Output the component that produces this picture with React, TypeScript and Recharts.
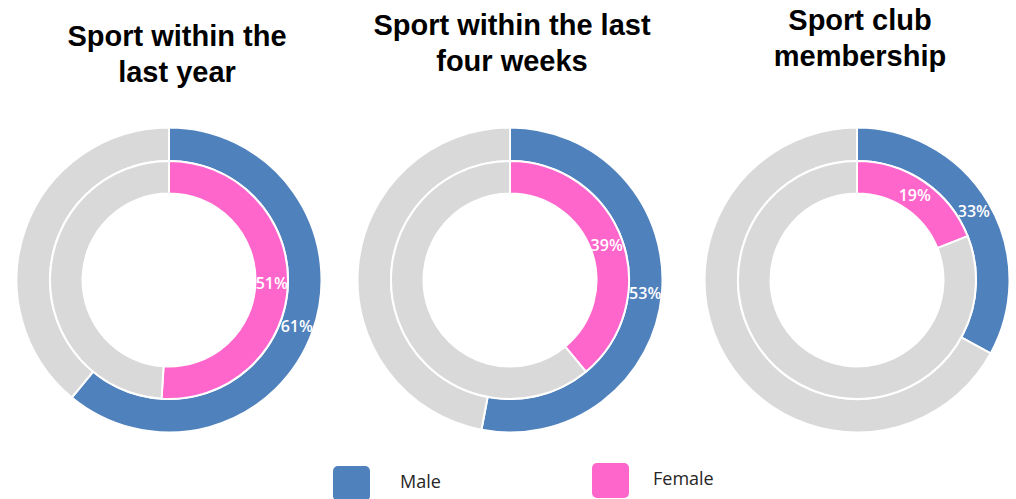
import React from "react";
import { PieChart, Pie, Cell } from "recharts";

const titles = [
  ["Sport within the", "last year"],
  ["Sport within the last", "four weeks"],
  ["Sport club", "membership"],
];
const maleValues = [61, 53, 33];
const femaleValues = [51, 39, 19];
const legendLabels = ["Male", "Female"];

const BLUE = "#4F81BD";
const PINK = "#FF66CC";
const GRAY = "#D9D9D9";

const centersX = [169, 510, 857];
const CY = 280;
const titleTops = [18, 7, 2];
const titleCenters = [177, 512, 860];

const RAD = Math.PI / 180;

const makeLabel = (props: any) => {
  const { cx, cy, midAngle, innerRadius, outerRadius, index, payload } = props;
  if (index !== 0) return null;
  const r = (innerRadius + outerRadius) / 2;
  const x = cx + r * Math.cos(-midAngle * RAD);
  const y = cy + r * Math.sin(-midAngle * RAD);
  return (
    <text
      x={x}
      y={y}
      fill="#FFFFFF"
      textAnchor="middle"
      dominantBaseline="central"
      fontFamily="'Open Sans', sans-serif"
      fontSize={16}
      fontWeight={600}
    >
      {`${payload.value}%`}
    </text>
  );
};

export default function App() {
  return (
    <div
      style={{
        position: "absolute",
        left: 0,
        top: 0,
        width: 1016,
        height: 499,
        background: "#fff",
        overflow: "hidden",
      }}
    >
      <PieChart
        width={1016}
        height={499}
        margin={{ top: 0, right: 0, bottom: 0, left: 0 }}
        style={{ position: "absolute", left: 0, top: 0 }}
      >
        {maleValues.map((m, i) => (
          <Pie
            key={`m${i}`}
            data={[
              { name: "Male", value: m },
              { name: "rest", value: 100 - m },
            ]}
            dataKey="value"
            cx={centersX[i]}
            cy={CY}
            startAngle={90}
            endAngle={-270}
            innerRadius={119}
            outerRadius={152.5}
            stroke="#FFFFFF"
            strokeWidth={2}
            isAnimationActive={false}
            label={makeLabel}
            labelLine={false}
          >
            <Cell fill={BLUE} />
            <Cell fill={GRAY} />
          </Pie>
        ))}
        {femaleValues.map((f, i) => (
          <Pie
            key={`f${i}`}
            data={[
              { name: "Female", value: f },
              { name: "rest", value: 100 - f },
            ]}
            dataKey="value"
            cx={centersX[i]}
            cy={CY}
            startAngle={90}
            endAngle={-270}
            innerRadius={86.5}
            outerRadius={119}
            stroke="#FFFFFF"
            strokeWidth={2}
            isAnimationActive={false}
            label={makeLabel}
            labelLine={false}
          >
            <Cell fill={PINK} />
            <Cell fill={GRAY} />
          </Pie>
        ))}
      </PieChart>
      {titles.map((t, i) => (
        <div
          key={`t${i}`}
          style={{
            position: "absolute",
            left: titleCenters[i] - 200,
            width: 400,
            top: titleTops[i],
            textAlign: "center",
            fontFamily: "'Liberation Sans', Arial, sans-serif",
            fontWeight: 700,
            fontSize: 29,
            lineHeight: "36px",
            color: "#000",
          }}
        >
          {t.map((line, j) => (
            <div key={j}>{line}</div>
          ))}
        </div>
      ))}
      {legendLabels.map((lab, i) => (
        <React.Fragment key={lab}>
          <div
            style={{
              position: "absolute",
              left: i === 0 ? 333 : 592,
              top: i === 0 ? 466 : 463,
              width: 37,
              height: 35,
              borderRadius: 5,
              background: i === 0 ? BLUE : PINK,
            }}
          />
          <div
            style={{
              position: "absolute",
              left: i === 0 ? 400 : 653,
              top: i === 0 ? 469 : 466,
              fontFamily: "'Open Sans', sans-serif",
              fontSize: 18,
              lineHeight: "24px",
              color: "#262626",
            }}
          >
            {lab}
          </div>
        </React.Fragment>
      ))}
    </div>
  );
}
